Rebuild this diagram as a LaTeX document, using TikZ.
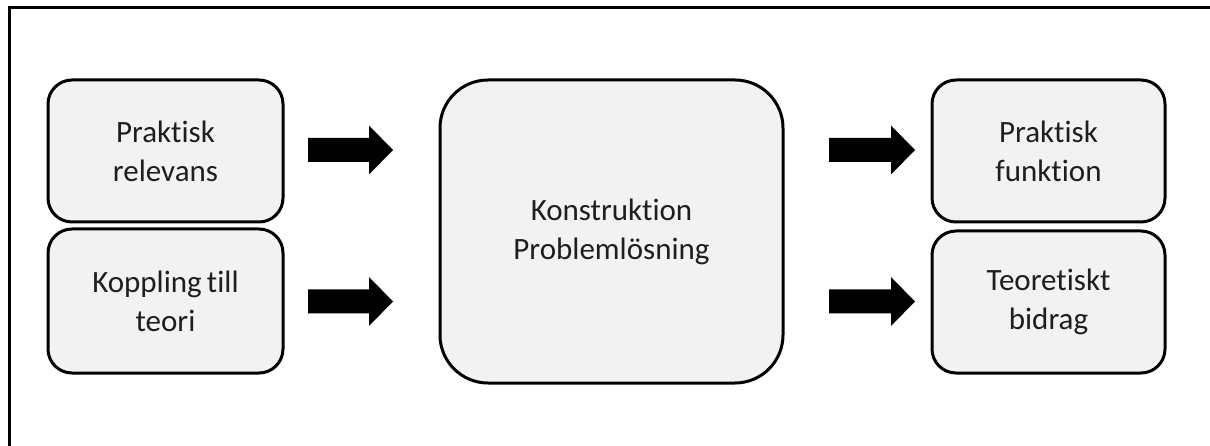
\documentclass[tikz,border=0pt]{standalone}
\usepackage{fontspec}
\setmainfont[Ligatures=NoCommon]{Carlito}
\definecolor{boxfill}{HTML}{F2F2F2}
\definecolor{txt}{HTML}{1E1E1E}
\tikzset{
  x=1pt, y=-1pt,
  stage/.style={draw=black, line width=3pt, fill=boxfill, rounded corners=24pt,
    inner sep=0pt, align=center, text=txt,
    font=\fontsize{31}{39}\selectfont},
  bigstage/.style={stage, rounded corners=48pt},
  fatarrow/.style={fill=black, draw=none},
  frameline/.style={draw=black, line width=3pt}
}
% block arrow: start x, centre y, tip x
\newcommand\fatarr[3]{%
  \path[fatarrow] (#1,#2-12) -- (#3-24,#2-12) -- (#3-24,#2-24.5) -- (#3,#2)
    -- (#3-24,#2+24.5) -- (#3-24,#2+12) -- (#1,#2+12) -- cycle;}
\begin{document}
\begin{tikzpicture}
\useasboundingbox (0,0) rectangle (1210,446);
% outer frame (top and left edges)
\draw[frameline] (9,447) -- (9,8) -- (1211,8);

% input boxes
\node[stage, minimum width=235pt, minimum height=142pt] (rel) at (165.5,151)
  {Praktisk\\relevans};
\node[stage, minimum width=235pt, minimum height=144pt] (teo) at (165.5,301)
  {Koppling\,till\\teori};

% central box
\node[bigstage, minimum width=343pt, minimum height=303pt] (kon) at (611.5,231.5)
  {Konstruktion\\Problemlösning};

% output boxes
\node[stage, minimum width=233pt, minimum height=142pt] (fun) at (1048.5,151)
  {Praktisk\\funktion};
\node[stage, minimum width=233pt, minimum height=142pt] (bid) at (1048.5,302)
  {Teoretiskt\\bidrag};

% block arrows
\fatarr{308}{150}{393}
\fatarr{308}{301.5}{393}
\fatarr{829}{150}{915}
\fatarr{829}{301.5}{915}
\end{tikzpicture}
\end{document}
